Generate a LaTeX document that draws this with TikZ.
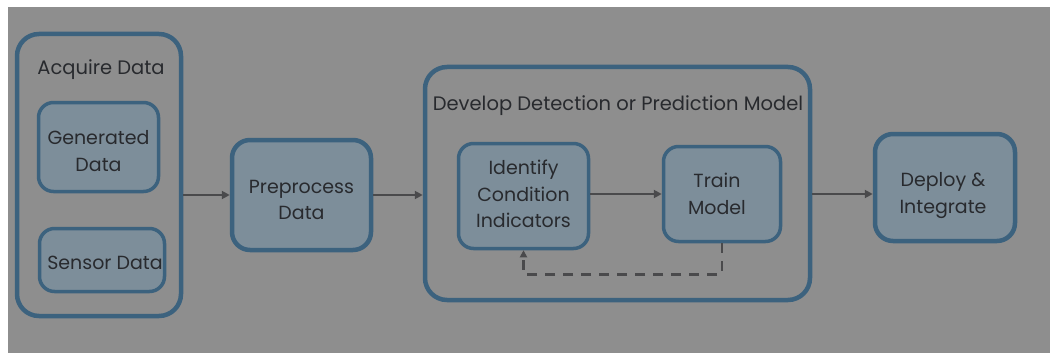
\documentclass[tikz,border=0pt]{standalone}
\usepackage{fontspec}
\setmainfont{Poppins}
\usetikzlibrary{arrows.meta,calc}
\definecolor{bg}{RGB}{142,142,142}
\definecolor{boxfill}{RGB}{125,142,154}
\definecolor{boxline}{RGB}{60,98,126}
\definecolor{txt}{RGB}{40,42,46}
\definecolor{arr}{RGB}{74,74,76}
\tikzset{
  outerbox/.style={draw=boxline, line width=4.5pt, rounded corners=22pt, inner sep=0pt},
  innerbox/.style={draw=boxline, fill=boxfill, line width=3.5pt, rounded corners=15pt, inner sep=0pt},
  bigbox/.style={draw=boxline, fill=boxfill, line width=4.5pt, rounded corners=18pt, inner sep=0pt},
  boxtext/.style={align=center, text=txt, inner sep=0pt, font=\fontsize{19}{26.5}\selectfont},
  title/.style={text=txt, inner sep=0pt},
  flow/.style={draw=arr, line width=2.2pt, -{Triangle[length=8pt,width=8pt]}},
  feedback/.style={draw=arr, line width=2.5pt, dash pattern=on 10pt off 8pt, -{Triangle[length=7pt,width=7pt]}},
}
\begin{document}
\begin{tikzpicture}[x=1pt,y=-1pt]
\useasboundingbox (0,0) rectangle (1050,353);
\fill[white] (0,0) rectangle (1050,353);
\fill[bg] (8,7) rectangle (1050,353);

\node[outerbox, minimum width=164pt, minimum height=282pt] (acq) at (99,175) {};
\node[title, font=\fontsize{19.5}{22}\selectfont] (acqt) at (101,70) {Acquire Data};
\node[innerbox, minimum width=120pt, minimum height=89pt] (gen) at (98.5,147) {};
\node[boxtext] (genT) at ($(gen)+(0,4)$) {Generated\\Data};
\node[innerbox, minimum width=125pt, minimum height=63pt] (sen) at (102,260) {};
\node[boxtext] (senT) at ($(sen)+(3,3)$) {Sensor Data};

\node[bigbox, minimum width=139pt, minimum height=110pt] (pre) at (301.5,195) {};
\node[boxtext] (preT) at ($(pre)+(0,5)$) {Preprocess\\Data};

\node[outerbox, minimum width=385pt, minimum height=233pt] (dev) at (617.5,183.5) {};
\node[title, font=\fontsize{19.5}{24}\selectfont] (devt) at (618,106) {Develop Detection or Prediction Model};
\node[innerbox, minimum width=130pt, minimum height=105pt] (idf) at (523.5,196) {};
\node[boxtext] (idfT) at ($(idf)+(0,-2)$) {Identify\\Condition\\Indicators};
\node[innerbox, minimum width=117pt, minimum height=95pt] (trn) at (722,194) {};
\node[boxtext] (trnT) at ($(trn)+(-5,0)$) {Train\\Model};

\node[bigbox, minimum width=140pt, minimum height=107pt] (dep) at (945,187.5) {};
\node[boxtext] (depT) at ($(dep)+(-2,8)$) {Deploy \&\\Integrate};

\draw[flow] (acq.east |- pre.west) -- (pre.west);
\draw[flow] (pre.east) -- (dev.west |- pre.east);
\draw[flow] (idf.east |- trn.west) -- (trn.west);
\draw[flow] (dev.east |- trn.east) -- (dep.west |- trn.east);
\draw[feedback] (trn.south) -- ++(0,31) -| (idf.south);
\end{tikzpicture}
\end{document}
